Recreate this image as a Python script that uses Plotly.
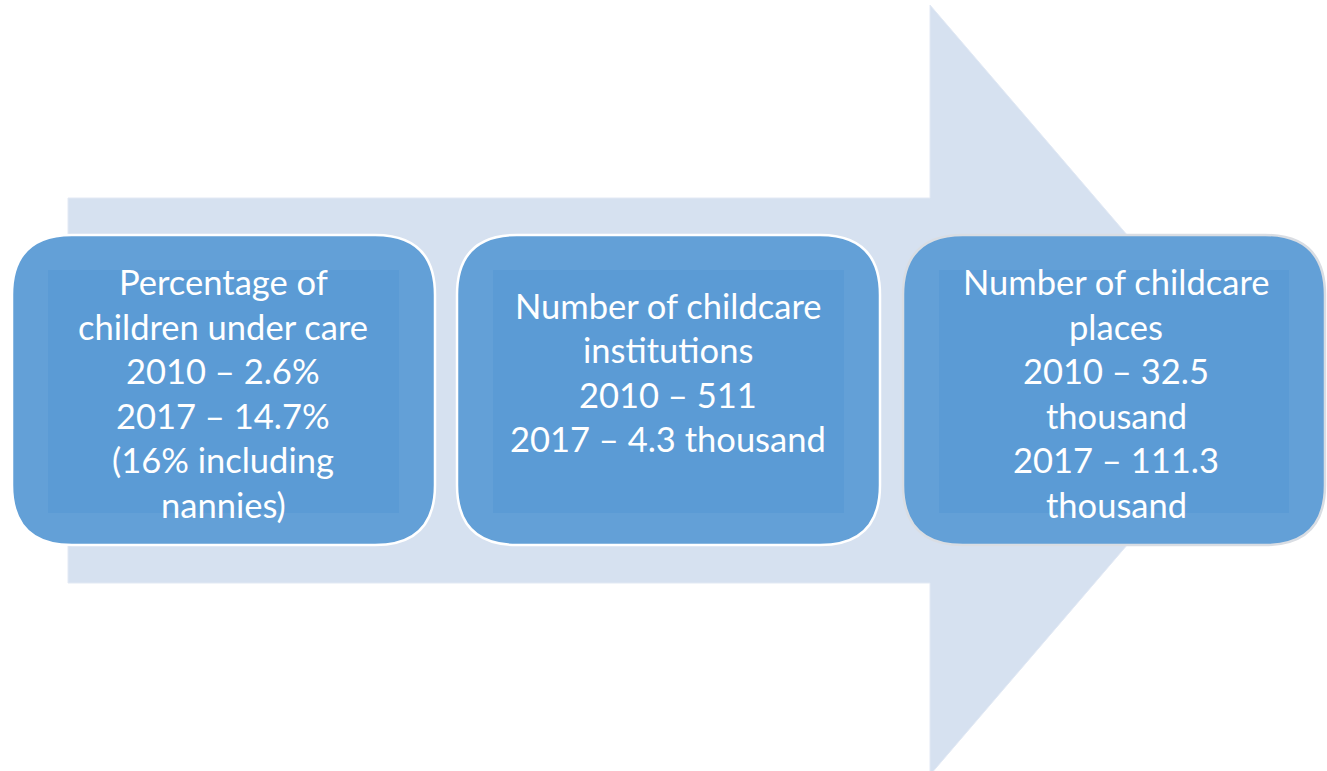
import plotly.graph_objects as go

# ---- content ----
box_lines = [
    ["Percentage of", "children under care", "2010 – 2.6%", "2017 – 14.7%",
     "(16% including", "nannies)"],
    ["Number of childcare", "institutions", "2010 – 511", "2017 – 4.3 thousand"],
    ["Number of childcare", "places", "2010 – 32.5", "thousand", "2017 – 111.3",
     "thousand"],
]

W, H = 1327, 771
ARROW = "#d6e1f0"
BOX_OUT = "#63a0d7"
BOX_IN = "#5b9bd5"

def rrect(x0, y0, x1, y1, r):
    return (f"M{x0+r},{y0} L{x1-r},{y0} Q{x1},{y0} {x1},{y0+r} "
            f"L{x1},{y1-r} Q{x1},{y1} {x1-r},{y1} L{x0+r},{y1} "
            f"Q{x0},{y1} {x0},{y1-r} L{x0},{y0+r} Q{x0},{y0} {x0+r},{y0} Z")

shapes = []
# big arrow
shapes.append(dict(type="path", xref="x", yref="y",
                   path="M68,198 L930,198 L930,5 L1260,390 L930,775 L930,583 L68,583 Z",
                   fillcolor=ARROW, line=dict(color="#e2e9f4", width=1), layer="below"))

boxes = [(12, 235, 435, 545), (457, 235, 880, 545), (903, 235, 1325, 545)]
border = ["white", "white", "#d9dde3"]
for i, (x0, y0, x1, y1) in enumerate(boxes):
    shapes.append(dict(type="path", xref="x", yref="y", path=rrect(x0, y0, x1, y1, 60),
                       fillcolor=BOX_OUT, line=dict(color=border[i], width=2.5)))
    shapes.append(dict(type="rect", xref="x", yref="y", x0=x0 + 36, y0=y0 + 35,
                       x1=x1 - 36, y1=y1 - 32, fillcolor=BOX_IN, line=dict(width=0)))

annotations = []
centers = [(223, 393), (668, 372), (1116, 393)]
LS = 44.5
for i, (cx, cy) in enumerate(centers):
    lines = box_lines[i]
    n = len(lines)
    for k, t in enumerate(lines):
        y = cy + (k - (n - 1) / 2) * LS
        annotations.append(dict(x=cx, y=y, xref="x", yref="y", text=t, showarrow=False,
                                xanchor="center", yanchor="middle", align="center",
                                font=dict(family="Lato", size=34.5, color="white")))

fig = go.Figure()
fig.update_layout(width=W, height=H, margin=dict(l=0, r=0, t=0, b=0),
                  paper_bgcolor="white", plot_bgcolor="white",
                  xaxis=dict(range=[0, W], visible=False, fixedrange=True),
                  yaxis=dict(range=[H, 0], visible=False, fixedrange=True),
                  shapes=shapes, annotations=annotations, showlegend=False)
fig.write_html("out.html", config={"displayModeBar": False})
